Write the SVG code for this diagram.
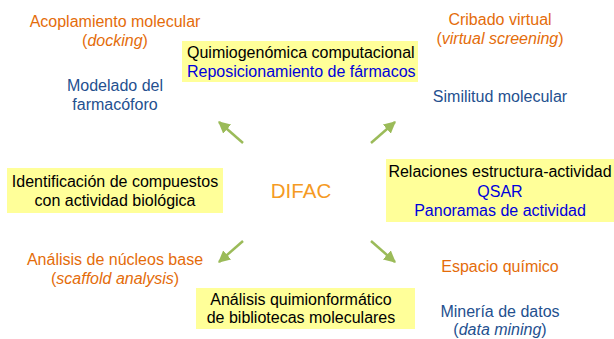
<svg xmlns="http://www.w3.org/2000/svg" width="614" height="339" viewBox="0 0 614 339">
<defs>
<style>
text{font-family:"Liberation Sans",Arial,Helvetica,sans-serif;font-size:16px;}
.or{fill:#E46C0A;}
.nv{fill:#24508F;}
.bk{fill:#000;}
.bl{fill:#0000DD;}
.box{fill:#FFFF99;}
.it{font-style:italic;}
.c{text-anchor:middle;}
.arr{stroke:#9BBB59;stroke-width:2.5;fill:none;marker-end:url(#ah);}
</style>
<marker id="ah" viewBox="0 0 10 10" markerWidth="12" markerHeight="12" markerUnits="userSpaceOnUse" refX="9" refY="5" orient="auto">
<path d="M0,0 L10,5 L0,10 z" fill="#9BBB59"/>
</marker>
</defs>
<rect width="614" height="339" fill="#fff"/>
<g id="connectors">
<line class="arr" x1="243" y1="143" x2="219" y2="122"/>
<line class="arr" x1="371" y1="143" x2="395" y2="122"/>
<line class="arr" x1="243" y1="241" x2="219" y2="262"/>
<line class="arr" x1="371" y1="241" x2="395" y2="262"/>
</g>
<g id="difac"><text x="301" y="198" class="c" style="font-size:20.5px;fill:#F59A23">DIFAC</text></g>
<g id="acoplamiento">
<text x="115" y="27" class="c or">Acoplamiento molecular</text>
<text x="115" y="46" class="c or">(<tspan class="it">docking</tspan>)</text>
</g>
<g id="modelado">
<text x="115" y="91" class="c nv">Modelado del</text>
<text x="115" y="110" class="c nv">farmacóforo</text>
</g>
<g id="quimiogenomica">
<rect class="box" x="182" y="41" width="236" height="41"/>
<text x="187" y="58" class="bk">Quimiogenómica computacional</text>
<text x="187" y="77" class="bl">Reposicionamiento de fármacos</text>
</g>
<g id="cribado">
<text x="500" y="25" class="c or">Cribado virtual</text>
<text x="500" y="44" class="c or">(<tspan class="it">virtual screening</tspan>)</text>
</g>
<g id="similitud">
<text x="500" y="102" class="c nv">Similitud molecular</text>
</g>
<g id="identificacion">
<rect class="box" x="7" y="168" width="216" height="45"/>
<text x="115" y="187" class="c bk">Identificación de compuestos</text>
<text x="115" y="206" class="c bk">con actividad biológica</text>
</g>
<g id="relaciones">
<rect class="box" x="386" y="159" width="228" height="63"/>
<text x="500" y="177" class="c bk">Relaciones estructura-actividad</text>
<text x="500" y="197" class="c bl">QSAR</text>
<text x="500" y="216" class="c bl">Panoramas de actividad</text>
</g>
<g id="nucleos">
<text x="115" y="265" class="c or">Análisis de núcleos base</text>
<text x="115" y="284" class="c or">(<tspan class="it">scaffold analysis</tspan>)</text>
</g>
<g id="espacio">
<text x="500" y="272" class="c or">Espacio químico</text>
</g>
<g id="analisis">
<rect class="box" x="196" y="288" width="219" height="41"/>
<text x="301" y="305" class="c bk">Análisis quimionformático</text>
<text x="301" y="323" class="c bk">de bibliotecas moleculares</text>
</g>
<g id="mineria">
<text x="500" y="317" class="c nv">Minería de datos</text>
<text x="500" y="335" class="c nv">(<tspan class="it">data mining</tspan>)</text>
</g>
</svg>
